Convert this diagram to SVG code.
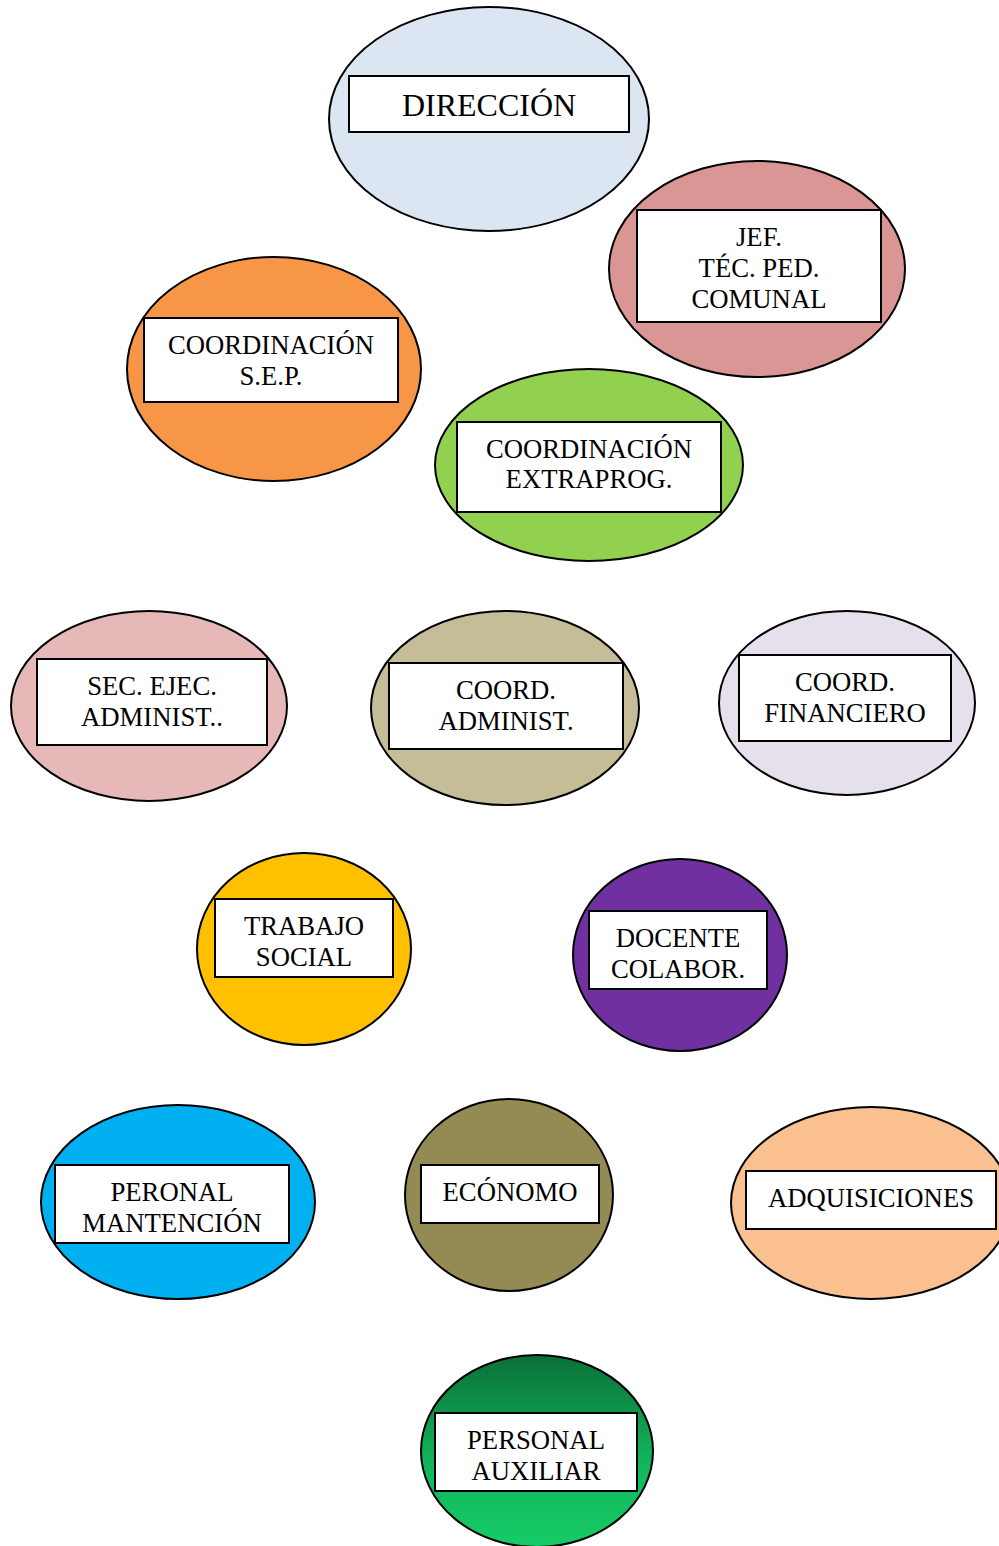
<svg xmlns="http://www.w3.org/2000/svg" width="999" height="1546" viewBox="0 0 999 1546">
<style>
.e{stroke:#000;stroke-width:2}
.b{fill:#fff;stroke:#000;stroke-width:2}
text{font-family:"Liberation Serif","Times New Roman",serif;font-size:26.7px;fill:#000;text-anchor:middle}
</style>
<defs>
<linearGradient id="gAux" x1="0" y1="0" x2="0" y2="1">
<stop offset="0" stop-color="#0a7038"/>
<stop offset="0.55" stop-color="#12b45a"/>
<stop offset="1" stop-color="#16cc66"/>
</linearGradient>
</defs>
<rect width="999" height="1546" fill="#fff"/>
<g id="connectors"></g>
<g id="direccion">
<ellipse class="e" cx="489" cy="119" rx="160" ry="112" fill="#dce6f2"/>
<rect class="b" x="349" y="76" width="280" height="56"/>
<text x="489" y="116" style="font-size:32px">DIRECCIÓN</text>
</g>
<g id="jef">
<ellipse class="e" cx="757" cy="269" rx="148" ry="108" fill="#d99694"/>
<rect class="b" x="637" y="210" width="244" height="112"/>
<text x="759" y="246">JEF.</text>
<text x="759" y="277">TÉC. PED.</text>
<text x="759" y="308">COMUNAL</text>
</g>
<g id="sep">
<ellipse class="e" cx="274" cy="369" rx="147" ry="112" fill="#f79646"/>
<rect class="b" x="144" y="318" width="254" height="84"/>
<text x="271" y="354">COORDINACIÓN</text>
<text x="271" y="385">S.E.P.</text>
</g>
<g id="extraprog">
<ellipse class="e" cx="589" cy="465" rx="154" ry="96" fill="#92d050"/>
<rect class="b" x="457" y="422" width="264" height="90"/>
<text x="589" y="458">COORDINACIÓN</text>
<text x="589" y="488">EXTRAPROG.</text>
</g>
<g id="sec">
<ellipse class="e" cx="149" cy="706" rx="138" ry="95" fill="#e6b9b8"/>
<rect class="b" x="37" y="659" width="230" height="86"/>
<text x="152" y="695">SEC. EJEC.</text>
<text x="152" y="726">ADMINIST..</text>
</g>
<g id="admin">
<ellipse class="e" cx="505" cy="708" rx="134" ry="97" fill="#c4bd97"/>
<rect class="b" x="389" y="663" width="234" height="86"/>
<text x="506" y="699">COORD.</text>
<text x="506" y="730">ADMINIST.</text>
</g>
<g id="financiero">
<ellipse class="e" cx="847" cy="703" rx="128" ry="92" fill="#e5e0ec"/>
<rect class="b" x="739" y="655" width="212" height="86"/>
<text x="845" y="691">COORD.</text>
<text x="845" y="722">FINANCIERO</text>
</g>
<g id="trabajo">
<ellipse class="e" cx="304" cy="949" rx="107" ry="96" fill="#ffc000"/>
<rect class="b" x="215" y="899" width="178" height="78"/>
<text x="304" y="935">TRABAJO</text>
<text x="304" y="966">SOCIAL</text>
</g>
<g id="docente">
<ellipse class="e" cx="680" cy="955" rx="107" ry="96" fill="#7030a0"/>
<rect class="b" x="589" y="911" width="178" height="78"/>
<text x="678" y="947">DOCENTE</text>
<text x="678" y="978">COLABOR.</text>
</g>
<g id="mantencion">
<ellipse class="e" cx="178" cy="1202" rx="137" ry="97" fill="#00b0f0"/>
<rect class="b" x="55" y="1165" width="234" height="78"/>
<text x="172" y="1201">PERONAL</text>
<text x="172" y="1232">MANTENCIÓN</text>
</g>
<g id="economo">
<ellipse class="e" cx="509" cy="1195" rx="104" ry="96" fill="#948a54"/>
<rect class="b" x="421" y="1165" width="178" height="58"/>
<text x="510" y="1201">ECÓNOMO</text>
</g>
<g id="adquisiciones">
<ellipse class="e" cx="871" cy="1203" rx="140" ry="96" fill="#fac090"/>
<rect class="b" x="746" y="1171" width="250" height="58"/>
<text x="871" y="1207">ADQUISICIONES</text>
</g>
<g id="auxiliar">
<ellipse class="e" cx="537" cy="1451" rx="116" ry="96" fill="url(#gAux)"/>
<rect class="b" x="435" y="1413" width="202" height="78"/>
<text x="536" y="1449">PERSONAL</text>
<text x="536" y="1480">AUXILIAR</text>
</g>
</svg>
